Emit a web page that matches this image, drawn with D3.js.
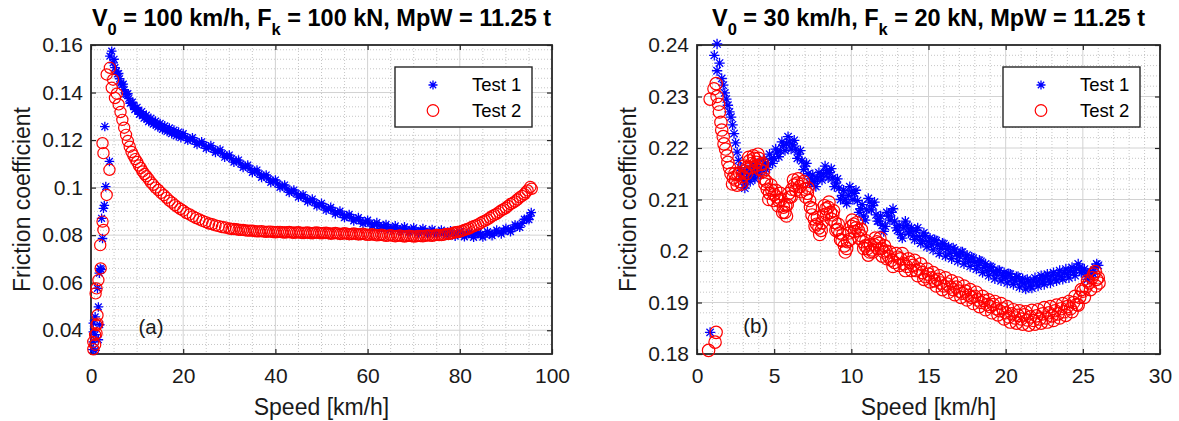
<!DOCTYPE html>
<html><head><meta charset="utf-8">
<script src="https://cdn.jsdelivr.net/npm/d3@7"></script>
<style>
body{margin:0;background:#fff;}
svg{display:block;}
text{font-family:"Liberation Sans",Arial,Helvetica,sans-serif;}
</style>
</head><body>
<svg id="chart" width="1179" height="421"></svg>
<script>
// ---------------- DATA ----------------
const seriesNames = ["Test 1", "Test 2"];

// Panel (a): V0 = 100 km/h
const xTicksA = [0, 20, 40, 60, 80, 100];
const yTicksA = [0.04, 0.06, 0.08, 0.1, 0.12, 0.14, 0.16];
const yTickLabelsA = ["0.04", "0.06", "0.08", "0.1", "0.12", "0.14", "0.16"];
const titleA = [["V", 0], ["0", 1], [" = 100 km/h, F", 0], ["k", 1], [" = 100 kN, MpW = 11.25 t", 0]];

const test1A = [
[0.4,0.0318],[0.5,0.0351],[0.9,0.0315],[0.5,0.0393],[0.9,0.0381],[1.6,0.0360],[0.5,0.0430],[1.9,0.0423],[0.9,0.0456],[1.6,0.0498],[1.4,0.0576],[1.8,0.0640],[2.0,0.0660],[2.2,0.0655],[2.5,0.0786],[2.3,0.0871],[2.7,0.0913],[2.9,0.0925],[3.2,0.1004],[4.0,0.1110],[3.0,0.1257],[4.1,0.1553],[4.5,0.1574],[4.8,0.1525],
[5.0,0.1540],[5.5,0.1490],[6.0,0.1480],[6.5,0.1440],[7.0,0.1435],[7.5,0.1395],[8.0,0.1395],[8.5,0.1355],[9.0,0.1360],[9.5,0.1328],[10.0,0.1338],[10.5,0.1308],[11.0,0.1320],[11.5,0.1292],[12.0,0.1305],[12.5,0.1278],[13.0,0.1292],[13.5,0.1267],[14.0,0.1280],[14.5,0.1255],[15.0,0.1270],[15.5,0.1245],[16.0,0.1260],[16.5,0.1236],[17.0,0.1251],[17.5,0.1227],[18.0,0.1242],[18.5,0.1218],[19.0,0.1234],[19.5,0.1210],[20.0,0.1227],
[5.2,0.1505],[5.7,0.1478],[6.2,0.1458],[6.7,0.1432],[7.2,0.1412],[7.7,0.1392],[8.2,0.1375],[8.7,0.1358],[9.2,0.1345],[9.7,0.1333],[10.2,0.1322],[10.7,0.1312],[11.2,0.1304],[11.7,0.1296],[12.2,0.1290],[12.7,0.1283],[13.2,0.1277],[13.7,0.1272],[14.2,0.1266],[14.7,0.1262],[15.2,0.1256],[15.7,0.1252],[16.2,0.1247],[16.7,0.1243],[17.2,0.1238],[17.7,0.1235],[18.2,0.1230],[18.7,0.1226],[19.2,0.1222],[19.7,0.1219],
[21,0.1199],[22,0.1210],[23,0.1182],[24,0.1193],[25,0.1165],[26,0.1177],[27,0.1148],[28,0.1159],[29,0.1128],[30,0.1137],[31,0.1107],[32,0.1116],[33,0.1085],[34,0.1095],[35,0.1064],[36,0.1074],[37,0.1043],[38,0.1053],[39,0.1022],[40,0.1032],[41,0.1001],[42,0.1011],[43,0.0980],[44,0.0990],[45,0.0960],[46,0.0970],[47,0.0941],[48,0.0952],[49,0.0923],[50,0.0934],[51,0.0905],[52,0.0917],[53,0.0889],[54,0.0901],[55,0.0874],[56,0.0887],[57,0.0860],[58,0.0874],[59,0.0848],[60,0.0863],[61,0.0838],[62,0.0853],[63,0.0829],[64,0.0845],[65,0.0822],[66,0.0839],[67,0.0817],[68,0.0835],[69,0.0813],[70,0.0831],[71,0.0809],[72,0.0828],[73,0.0806],[74,0.0824],[75,0.0803],[76,0.0821],[77,0.0800],[78,0.0818],[79,0.0796],[80,0.0815],[81,0.0793],[82,0.0812],[83,0.0791],[84,0.0811],[85,0.0792],[86,0.0815],[87,0.0798],[88,0.0821],[89,0.0805],[90,0.0829],[91,0.0815],[92,0.0843],[93,0.0833],[94,0.0867],[95,0.0865],[95.5,0.0895],
[20.5,0.1213],[21.5,0.1204],[22.5,0.1196],[23.5,0.1188],[24.5,0.1179],[25.5,0.1171],[26.5,0.1162],[27.5,0.1154],[28.5,0.1143],[29.5,0.1133],[30.5,0.1122],[31.5,0.1112],[32.5,0.1100],[33.5,0.1090],[34.5,0.1080],[35.5,0.1069],[36.5,0.1058],[37.5,0.1048],[38.5,0.1037],[39.5,0.1027],[40.5,0.1016],[41.5,0.1006],[42.5,0.0995],[43.5,0.0985],[44.5,0.0975],[45.5,0.0965],[46.5,0.0955],[47.5,0.0946],[48.5,0.0937],[49.5,0.0928],[50.5,0.0919],[51.5,0.0911],[52.5,0.0903],[53.5,0.0895],[54.5,0.0887],[55.5,0.0880],[56.5,0.0873],[57.5,0.0867],[58.5,0.0861],[59.5,0.0855],[60.5,0.0850],[61.5,0.0845],[62.5,0.0841],[63.5,0.0837],[64.5,0.0833],[65.5,0.0830],[66.5,0.0828],[67.5,0.0826],[68.5,0.0824],[69.5,0.0822],[70.5,0.0820],[71.5,0.0818],[72.5,0.0817],[73.5,0.0815],[74.5,0.0813],[75.5,0.0812],[76.5,0.0810],[77.5,0.0809],[78.5,0.0807],[79.5,0.0805],[80.5,0.0804],[81.5,0.0802],[82.5,0.0801],[83.5,0.0801],[84.5,0.0801],[85.5,0.0803],[86.5,0.0806],[87.5,0.0809],[88.5,0.0813],[89.5,0.0817],[90.5,0.0822],[91.5,0.0829],[92.5,0.0838],[93.5,0.0850],[94.5,0.0866],[95.2,0.0880]
];

const test2A = [
[0.5,0.0320],[0.9,0.0339],[0.5,0.0351],[0.9,0.0380],[1.2,0.0387],[1.2,0.0422],[1.4,0.0428],[1.4,0.0463],[1.0,0.0555],[1.2,0.0576],[1.6,0.0611],[2.1,0.0660],[2.0,0.0758],[2.5,0.0857],[2.7,0.0822],[3.4,0.0969],[4.0,0.1075],[2.7,0.1145],[2.5,0.1187],[3.4,0.1476],[4.1,0.1504],[4.5,0.1420],[4.8,0.1454],[5.2,0.1377],
[5.6,0.1395],[6.0,0.1350],[6.4,0.1318],[6.8,0.1285],[7.2,0.1252],[7.6,0.1222],[8.0,0.1196],[8.4,0.1172],[8.8,0.1150],[9.2,0.1135],[9.6,0.1120],[10.0,0.1108],[10.4,0.1093],[10.8,0.1082],[11.2,0.1068],[11.6,0.1057],[12.0,0.1048],[12.5,0.1036],[13.0,0.1022],[13.5,0.1012],[14.0,0.1000],[14.6,0.0990],[15.2,0.0978],[15.8,0.0968],[16.4,0.0957],[17.0,0.0945],[17.6,0.0937],[18.2,0.0926],[18.8,0.0918],[19.4,0.0910],[20.0,0.0903],[20.7,0.0893],[21.4,0.0887],[22.1,0.0879],[22.8,0.0872],[23.5,0.0866],[24.2,0.0860],[24.9,0.0855],[25.6,0.0849],[26.3,0.0846],[27.0,0.0841],[27.7,0.0838],[28.4,0.0834],[29.1,0.0832],
[30,0.0828],[31,0.0826],[32,0.0823],[33,0.0822],[34,0.0819],[35,0.0819],[36,0.0816],[37,0.0817],[38,0.0814],[39,0.0815],[40,0.0812],[41,0.0814],[42,0.0811],[43,0.0813],[44,0.0810],[45,0.0812],[46,0.0809],[47,0.0811],[48,0.0808],[49,0.0811],[50,0.0808],[51,0.0810],[52,0.0806],[53,0.0809],[54,0.0805],[55,0.0808],[56,0.0804],[57,0.0807],[58,0.0803],[59,0.0806],[60,0.0801],[61,0.0804],[62,0.0799],[63,0.0802],[64,0.0797],[65,0.0800],[66,0.0795],[67,0.0799],[68,0.0794],[69,0.0798],[70,0.0794],[71,0.0797],[72,0.0795],[73,0.0799],[74,0.0797],[75,0.0801],[76,0.0800],[77,0.0805],[78,0.0806],[79,0.0812],[80,0.0815],[81,0.0822],[82,0.0828],[83,0.0838],[84,0.0845],[85,0.0857],[86,0.0866],[87,0.0880],[88,0.0890],[89,0.0904],[90,0.0915],[91,0.0931],[92,0.0942],[93,0.0959],[94,0.0972],[94.7,0.0988],[95.3,0.1003],[95.6,0.0995],
[30.5,0.0826],[31.5,0.0825],[32.5,0.0822],[33.5,0.0820],[34.5,0.0819],[35.5,0.0817],[36.5,0.0816],[37.5,0.0815],[38.5,0.0815],[39.5,0.0813],[40.5,0.0813],[41.5,0.0812],[42.5,0.0812],[43.5,0.0811],[44.5,0.0811],[45.5,0.0810],[46.5,0.0810],[47.5,0.0809],[48.5,0.0810],[49.5,0.0809],[50.5,0.0809],[51.5,0.0808],[52.5,0.0807],[53.5,0.0807],[54.5,0.0806],[55.5,0.0806],[56.5,0.0805],[57.5,0.0805],[58.5,0.0804],[59.5,0.0803],[60.5,0.0802],[61.5,0.0801],[62.5,0.0800],[63.5,0.0799],[64.5,0.0798],[65.5,0.0797],[66.5,0.0797],[67.5,0.0796],[68.5,0.0796],[69.5,0.0796],[70.5,0.0795],[71.5,0.0796],[72.5,0.0797],[73.5,0.0798],[74.5,0.0799],[75.5,0.0800],[76.5,0.0802],[77.5,0.0805],[78.5,0.0809],[79.5,0.0813],[80.5,0.0818],[81.5,0.0825],[82.5,0.0833],[83.5,0.0841],[84.5,0.0851],[85.5,0.0861],[86.5,0.0873],[87.5,0.0885],[88.5,0.0897],[89.5,0.0909],[90.5,0.0923],[91.5,0.0936],[92.5,0.0950],[93.5,0.0965],[94.3,0.0980]
];

// Panel (b): V0 = 30 km/h
const xTicksB = [0, 5, 10, 15, 20, 25, 30];
const yTicksB = [0.18, 0.19, 0.2, 0.21, 0.22, 0.23, 0.24];
const yTickLabelsB = ["0.18", "0.19", "0.2", "0.21", "0.22", "0.23", "0.24"];
const titleB = [["V", 0], ["0", 1], [" = 30 km/h, F", 0], ["k", 1], [" = 20 kN, MpW = 11.25 t", 0]];

const test1B = [
[0.85,0.1842],[1.12,0.2380],[1.3,0.2402],[1.46,0.2365],[1.3,0.2350],[1.6,0.2335],[1.7,0.2322],[1.8,0.2307],[1.9,0.2295],[2.0,0.2283],[2.1,0.2270],[2.2,0.2260],[2.3,0.2245],[2.4,0.2228],[2.5,0.2210],[2.6,0.2192],[2.7,0.2176],[2.8,0.2162],[2.9,0.2150],[3.0,0.2138],[3.1,0.2130],[3.2,0.2140],[3.35,0.2150],[3.5,0.2145],[3.65,0.2158],[3.8,0.2150],[4.0,0.2162],[4.2,0.2158],[4.4,0.2170],[4.6,0.2168],[4.8,0.2180],[5.0,0.2180],[5.2,0.2192],[5.4,0.2195],[5.6,0.2205],[5.8,0.2208],[6.0,0.2212],[6.2,0.2206],[6.4,0.2198],[6.6,0.2188],[6.8,0.2175],[7.0,0.2165],[7.2,0.2150],[7.4,0.2140],[7.6,0.2135],[7.8,0.2140],[8.0,0.2145],[8.2,0.2150],[8.4,0.2156],[8.6,0.2152],[8.8,0.2142],[9.0,0.2132],[9.2,0.2122],[9.4,0.2108],[9.6,0.2100],[9.8,0.2108],[10.0,0.2115],[10.2,0.2112],[10.4,0.2098],[10.6,0.2082],[10.8,0.2068],[11.0,0.2080],[11.2,0.2095],[11.4,0.2088],[11.6,0.2070],[11.8,0.2058],[12.0,0.2050],[12.2,0.2048],[12.4,0.2068],[12.6,0.2075],[12.8,0.2058],[13.0,0.2040],[13.2,0.2032],[13.4,0.2045],[13.6,0.2050],[13.8,0.2038],[14.0,0.2030],[14.2,0.2040],[14.4,0.2028],[14.6,0.2020],[14.8,0.2030],[15.0,0.2018],[15.2,0.2012],[15.4,0.2022],[15.6,0.2012],[15.8,0.2005],[16.0,0.2014],[16.2,0.2003],[16.4,0.1996],[16.6,0.2006],[16.8,0.1995],[17.0,0.1990],[17.2,0.1998],[17.4,0.1986],[17.6,0.1980],[17.8,0.1988],[18.0,0.1978],[18.2,0.1972],[18.4,0.1980],[18.6,0.1968],[18.8,0.1962],[19.0,0.1970],[19.2,0.1960],[19.4,0.1955],[19.6,0.1962],[19.8,0.1952],[20.0,0.1948],[20.2,0.1956],[20.4,0.1946],[20.6,0.1942],[20.8,0.1950],[21.0,0.1940],[21.2,0.1936],[21.4,0.1945],[21.6,0.1932],[21.8,0.1942],[22.0,0.1938],[22.2,0.1946],[22.4,0.1940],[22.6,0.1950],[22.8,0.1944],[23.0,0.1952],[23.2,0.1946],[23.4,0.1955],[23.6,0.1950],[23.8,0.1958],[24.0,0.1954],[24.2,0.1962],[24.4,0.1958],[24.6,0.1966],[24.8,0.1968],[25.0,0.1962],[25.2,0.1955],[25.4,0.1950],[25.6,0.1958],[25.8,0.1968],[26.0,0.1972],
[3.1,0.2122],[3.3,0.2158],[3.45,0.2135],[3.6,0.2165],[3.75,0.2140],[3.9,0.2170],[4.1,0.2148],[4.3,0.2178],[4.5,0.2158],[4.7,0.2188],[4.9,0.2170],[5.1,0.2198],[5.3,0.2183],[5.5,0.2212],[5.7,0.2195],[5.9,0.2222],[6.1,0.2198],[6.3,0.2215],[6.5,0.2180],[6.7,0.2195],[6.9,0.2158],[7.1,0.2170],[7.3,0.2132],[7.5,0.2148],[7.7,0.2125],[7.9,0.2152],[8.1,0.2138],[8.3,0.2165],[8.5,0.2142],[8.7,0.2160],[8.9,0.2125],[9.1,0.2140],[9.3,0.2100],[9.5,0.2118],[9.7,0.2092],[9.9,0.2125],[10.1,0.2100],[10.3,0.2118],[10.5,0.2075],[10.7,0.2090],[10.9,0.2060],[11.1,0.2102],[11.3,0.2080],[11.5,0.2095],[11.7,0.2058],[11.9,0.2068],[12.1,0.2038],[12.3,0.2075],[12.5,0.2060],[12.7,0.2082],[12.9,0.2045],[13.1,0.2050],[13.3,0.2025],[13.5,0.2058],[13.7,0.2035],[13.9,0.2045],[14.1,0.2022],[14.3,0.2045],[14.5,0.2015],[14.7,0.2035],[14.9,0.2008],[15.1,0.2025],[15.3,0.2002],[15.5,0.2020],[15.7,0.1995],[15.9,0.2015],[16.1,0.1990],[16.3,0.2008],[16.5,0.1985],[16.7,0.2002],[16.9,0.1980],[17.1,0.1998],[17.3,0.1975],[17.5,0.1992],[17.7,0.1970],[17.9,0.1986],[18.1,0.1965],[18.3,0.1982],[18.5,0.1958],[18.7,0.1975],[18.9,0.1952],[19.1,0.1968],[19.3,0.1946],[19.5,0.1962],[19.7,0.1942],[19.9,0.1958],[20.1,0.1938],[20.3,0.1955],[20.5,0.1935],[20.7,0.1950],[20.9,0.1930],[21.1,0.1946],[21.3,0.1926],[21.5,0.1940],[21.7,0.1928],[21.9,0.1948],[22.1,0.1932],[22.3,0.1952],[22.5,0.1935],[22.7,0.1955],[22.9,0.1938],[23.1,0.1958],[23.3,0.1942],[23.5,0.1962],[23.7,0.1945],[23.9,0.1965],[24.1,0.1948],[24.3,0.1968],[24.5,0.1952],[24.7,0.1975],[24.9,0.1958],[25.1,0.1965],[25.3,0.1945],[25.5,0.1960],[25.7,0.1955],[25.9,0.1975]
];

const test2B = [
[0.75,0.1807],[1.17,0.1823],[1.24,0.1842],
[0.85,0.2295],[1.1,0.2315],[1.24,0.2325],[1.3,0.2300],[1.4,0.2285],[1.45,0.2270],[1.55,0.2250],[1.6,0.2235],[1.7,0.2222],[1.75,0.2208],[1.85,0.2198],[1.95,0.2185],[2.0,0.2172],[2.1,0.2162],[2.2,0.2150],[2.35,0.2142],[2.5,0.2138],[2.65,0.2148],[2.8,0.2135],[2.95,0.2145],[3.1,0.2155],[3.25,0.2162],[3.4,0.2175],[3.55,0.2170],[3.7,0.2180],[3.85,0.2172],[4.0,0.2180],[4.15,0.2168],[4.3,0.2155],[4.4,0.2130],[4.55,0.2120],[4.7,0.2112],[4.85,0.2118],[5.0,0.2110],[5.15,0.2105],[5.3,0.2098],[5.45,0.2100],[5.6,0.2085],[5.7,0.2075],[5.85,0.2090],[6.0,0.2105],[6.15,0.2120],[6.3,0.2128],[6.5,0.2132],[6.65,0.2125],[6.8,0.2130],[7.0,0.2120],[7.15,0.2112],[7.3,0.2098],[7.45,0.2070],[7.6,0.2062],[7.75,0.2052],[7.9,0.2045],[8.05,0.2040],[8.2,0.2070],[8.35,0.2082],[8.5,0.2085],[8.65,0.2075],[8.8,0.2070],[8.95,0.2055],[9.1,0.2042],[9.25,0.2035],[9.4,0.2020],[9.55,0.2010],[9.7,0.2005],[9.85,0.2035],[10.0,0.2048],[10.15,0.2052],[10.3,0.2045],[10.45,0.2040],[10.6,0.2030],[10.75,0.2018],[10.9,0.2010],[11.05,0.2005],[11.2,0.1998],[11.35,0.2002],[11.5,0.2012],[11.65,0.2018],[11.8,0.2015],[11.95,0.2005],[12.1,0.1998],[12.25,0.2000],[12.4,0.1990],[12.6,0.1982],[12.8,0.1978],[13.0,0.1988],[13.2,0.1985],[13.4,0.1975],[13.6,0.1970],[13.8,0.1978],[14.0,0.1972],[14.2,0.1962],[14.4,0.1965],[14.6,0.1958],[14.8,0.1950],[15.0,0.1955],[15.2,0.1948],[15.4,0.1942],[15.6,0.1945],[15.8,0.1938],[16.0,0.1932],[16.2,0.1936],[16.4,0.1930],[16.6,0.1925],[16.8,0.1930],[17.0,0.1922],[17.2,0.1918],[17.4,0.1922],[17.6,0.1914],[17.8,0.1910],[18.0,0.1912],[18.2,0.1905],[18.4,0.1900],[18.6,0.1904],[18.8,0.1896],[19.0,0.1892],[19.2,0.1896],[19.4,0.1888],[19.6,0.1884],[19.8,0.1888],[20.0,0.1880],[20.2,0.1872],[20.4,0.1878],[20.6,0.1870],[20.8,0.1875],[21.0,0.1868],[21.2,0.1876],[21.4,0.1866],[21.6,0.1872],[21.8,0.1865],[22.0,0.1874],[22.2,0.1868],[22.4,0.1878],[22.6,0.1870],[22.8,0.1880],[23.0,0.1874],[23.2,0.1884],[23.4,0.1878],[23.6,0.1888],[23.8,0.1882],[24.0,0.1892],[24.2,0.1888],[24.4,0.1900],[24.6,0.1896],[24.8,0.1910],[25.0,0.1922],[25.2,0.1930],[25.4,0.1938],[25.6,0.1948],[25.8,0.1960],[25.9,0.1945],[26.05,0.1938],
[2.3,0.2130],[2.45,0.2150],[2.6,0.2128],[2.75,0.2152],[2.9,0.2130],[3.05,0.2165],[3.2,0.2150],[3.35,0.2182],[3.5,0.2162],[3.65,0.2185],[3.8,0.2165],[3.95,0.2188],[4.1,0.2158],[4.25,0.2170],[4.35,0.2140],[4.5,0.2135],[4.65,0.2100],[4.8,0.2128],[4.95,0.2098],[5.1,0.2118],[5.25,0.2088],[5.4,0.2112],[5.55,0.2075],[5.75,0.2088],[5.8,0.2068],[5.95,0.2112],[6.1,0.2105],[6.25,0.2138],[6.4,0.2118],[6.55,0.2140],[6.75,0.2115],[6.9,0.2135],[7.05,0.2105],[7.2,0.2122],[7.35,0.2085],[7.5,0.2082],[7.65,0.2048],[7.8,0.2065],[7.95,0.2032],[8.1,0.2055],[8.25,0.2088],[8.4,0.2072],[8.55,0.2095],[8.7,0.2062],[8.85,0.2078],[9.0,0.2040],[9.15,0.2052],[9.3,0.2022],[9.45,0.2032],[9.6,0.1998],[9.75,0.2018],[9.9,0.2022],[10.05,0.2060],[10.2,0.2038],[10.35,0.2055],[10.5,0.2025],[10.65,0.2042],[10.8,0.2005],[10.95,0.2020],[11.1,0.1992],[11.25,0.2012],[11.4,0.1998],[11.55,0.2025],[11.7,0.2005],[11.85,0.2025],[12.0,0.1990],[12.15,0.2010],[12.3,0.1985],[12.5,0.1998],[12.7,0.1970],[12.9,0.1995],[13.1,0.1972],[13.3,0.1995],[13.5,0.1962],[13.7,0.1985],[13.9,0.1962],[14.1,0.1982],[14.3,0.1952],[14.5,0.1975],[14.7,0.1945],[14.9,0.1965],[15.1,0.1940],[15.3,0.1958],[15.5,0.1932],[15.7,0.1952],[15.9,0.1925],[16.1,0.1948],[16.3,0.1920],[16.5,0.1942],[16.7,0.1915],[16.9,0.1938],[17.1,0.1910],[17.3,0.1932],[17.5,0.1905],[17.7,0.1925],[17.9,0.1898],[18.1,0.1920],[18.3,0.1892],[18.5,0.1912],[18.7,0.1886],[18.9,0.1905],[19.1,0.1880],[19.3,0.1902],[19.5,0.1876],[19.7,0.1898],[19.9,0.1868],[20.1,0.1892],[20.3,0.1862],[20.5,0.1886],[20.7,0.1860],[20.9,0.1884],[21.1,0.1858],[21.3,0.1882],[21.5,0.1856],[21.7,0.1885],[21.9,0.1858],[22.1,0.1886],[22.3,0.1860],[22.5,0.1890],[22.7,0.1862],[22.9,0.1892],[23.1,0.1865],[23.3,0.1895],[23.5,0.1870],[23.7,0.1898],[23.9,0.1875],[24.1,0.1902],[24.3,0.1882],[24.5,0.1912],[24.7,0.1895],[24.9,0.1925],[25.1,0.1910],[25.3,0.1942],[25.5,0.1925],[25.7,0.1955],[25.85,0.1932],[26.0,0.1948]
];

// ---------------- DRAWING ----------------
const svg = d3.select("#chart");
const BLUE = "#0000ff", RED = "#ff0000", AXC = "#262626";

function asteriskPath(s) {
  const a = s * 0.7071;
  return `M${-s},0H${s}M0,${-s}V${s}M${-a},${-a}L${a},${a}M${-a},${a}L${a},${-a}`;
}

function drawPanel(cfg) {
  const g = svg.append("g");
  const x = d3.scaleLinear().domain(cfg.xDomain).range([cfg.left, cfg.right]);
  const y = d3.scaleLinear().domain(cfg.yDomain).range([cfg.bottom, cfg.top]);

  const isMajor = (v, step) => Math.abs(v / step - Math.round(v / step)) < 1e-6;
  const nx = Math.round((cfg.xDomain[1] - cfg.xDomain[0]) / cfg.xMinor);
  const ny = Math.round((cfg.yDomain[1] - cfg.yDomain[0]) / cfg.yMinor);
  const minorX = d3.range(1, nx).map(i => cfg.xDomain[0] + i * cfg.xMinor).filter(v => !isMajor(v, cfg.xMajor));
  const minorY = d3.range(1, ny).map(i => cfg.yDomain[0] + i * cfg.yMinor).filter(v => !isMajor(v - cfg.yTicks[0], cfg.yMajor));

  // minor grid
  g.selectAll(".mgx").data(minorX).join("line")
    .attr("x1", d => x(d)).attr("x2", d => x(d)).attr("y1", cfg.top).attr("y2", cfg.bottom)
    .attr("stroke", "#b8b8b8").attr("stroke-width", 0.8).attr("stroke-dasharray", "1,2");
  g.selectAll(".mgy").data(minorY).join("line")
    .attr("y1", d => y(d)).attr("y2", d => y(d)).attr("x1", cfg.left).attr("x2", cfg.right)
    .attr("stroke", "#b8b8b8").attr("stroke-width", 0.8).attr("stroke-dasharray", "1,2");
  // major grid
  g.selectAll(".Mgx").data(cfg.xTicks.filter(v => v > cfg.xDomain[0] && v < cfg.xDomain[1])).join("line")
    .attr("x1", d => x(d)).attr("x2", d => x(d)).attr("y1", cfg.top).attr("y2", cfg.bottom)
    .attr("stroke", "#d2d2d2").attr("stroke-width", 1);
  g.selectAll(".Mgy").data(cfg.yTicks.filter(v => v > cfg.yDomain[0] && v < cfg.yDomain[1])).join("line")
    .attr("y1", d => y(d)).attr("y2", d => y(d)).attr("x1", cfg.left).attr("x2", cfg.right)
    .attr("stroke", "#d2d2d2").attr("stroke-width", 1);

  // axes (ticks inward)
  const styleAxis = (sel, showText) => {
    sel.select(".domain").remove();
    sel.selectAll(".tick line").attr("stroke", AXC).attr("stroke-width", 1.2);
    sel.selectAll(".tick text").attr("font-size", 21).attr("fill", "#1a1a1a")
      .attr("font-family", "'Liberation Sans',Arial,sans-serif");
    if (!showText) sel.selectAll(".tick text").remove();
  };
  g.append("g").attr("transform", `translate(0,${cfg.bottom})`)
    .call(d3.axisBottom(x).tickValues(cfg.xTicks).tickFormat(d => String(d)).tickSize(-5).tickPadding(14))
    .call(s => styleAxis(s, true));
  g.append("g").attr("transform", `translate(0,${cfg.top})`)
    .call(d3.axisTop(x).tickValues(cfg.xTicks).tickSize(-5))
    .call(s => styleAxis(s, false));
  g.append("g").attr("transform", `translate(${cfg.left},0)`)
    .call(d3.axisLeft(y).tickValues(cfg.yTicks).tickFormat((d, i) => cfg.yTickLabels[i]).tickSize(-5).tickPadding(8))
    .call(s => styleAxis(s, true));
  g.append("g").attr("transform", `translate(${cfg.right},0)`)
    .call(d3.axisRight(y).tickValues(cfg.yTicks).tickSize(-5))
    .call(s => styleAxis(s, false));

  // box
  g.append("rect").attr("x", cfg.left).attr("y", cfg.top)
    .attr("width", cfg.right - cfg.left).attr("height", cfg.bottom - cfg.top)
    .attr("fill", "none").attr("stroke", AXC).attr("stroke-width", 1.8);

  // data: Test 1 asterisks
  g.append("g").selectAll("path").data(cfg.s1).join("path")
    .attr("d", asteriskPath(cfg.a))
    .attr("transform", d => `translate(${x(d[0])},${y(d[1])})`)
    .attr("stroke", BLUE).attr("stroke-width", 1.3).attr("fill", "none");
  // Test 2 circles
  g.append("g").selectAll("circle").data(cfg.s2).join("circle")
    .attr("cx", d => x(d[0])).attr("cy", d => y(d[1])).attr("r", cfg.r)
    .attr("stroke", RED).attr("stroke-width", 1.2).attr("fill", "none");

  // title
  const cx = (cfg.left + cfg.right) / 2;
  const t = g.append("text").attr("x", cx).attr("y", 26).attr("text-anchor", "middle")
    .attr("font-size", 23.5).attr("font-weight", "bold").attr("fill", "#000");
  let shifted = false;
  cfg.title.forEach(([s, sub]) => {
    const ts = t.append("tspan").text(s);
    if (sub) { ts.attr("font-size", 16.5).attr("dy", 9); shifted = true; }
    else if (shifted) { ts.attr("dy", -9); shifted = false; }
  });

  // axis labels
  g.append("text").attr("x", cx).attr("y", 415).attr("text-anchor", "middle")
    .attr("font-size", 23).attr("fill", "#1a1a1a").text("Speed [km/h]");
  g.append("text").attr("transform", `translate(${cfg.ylabX},${(cfg.top + cfg.bottom) / 2}) rotate(-90)`)
    .attr("text-anchor", "middle").attr("font-size", 23).attr("fill", "#1a1a1a").text("Friction coefficient");

  // panel tag
  g.append("text").attr("x", x(cfg.tag[1])).attr("y", y(cfg.tag[2])).attr("dy", "0.35em")
    .attr("font-size", 20.5).attr("fill", "#1a1a1a").text(cfg.tag[0]);

  // legend
  const lg = g.append("g").attr("transform", `translate(${cfg.right - 157},67)`);
  lg.append("rect").attr("x", 0).attr("y", 0).attr("width", 137).attr("height", 60)
    .attr("fill", "#fff").attr("stroke", AXC).attr("stroke-width", 1.4);
  lg.append("path").attr("d", asteriskPath(4.5)).attr("transform", "translate(38,18)")
    .attr("stroke", BLUE).attr("stroke-width", 1.3).attr("fill", "none");
  lg.append("circle").attr("cx", 38).attr("cy", 43.5).attr("r", 5.8)
    .attr("stroke", RED).attr("stroke-width", 1.2).attr("fill", "none");
  lg.selectAll("text").data(seriesNames).join("text")
    .attr("x", 77).attr("y", (d, i) => 18 + i * 25.5).attr("dy", "0.35em")
    .attr("font-size", 18.5).attr("fill", "#000").text(d => d);
}

drawPanel({
  left: 91, right: 552, top: 45, bottom: 354,
  xDomain: [0, 100], yDomain: [0.03, 0.16],
  xTicks: xTicksA, yTicks: yTicksA, yTickLabels: yTickLabelsA,
  xMajor: 20, xMinor: 5, yMajor: 0.02, yMinor: 0.004,
  s1: test1A, s2: test2A, r: 5.6, a: 4.8, title: titleA, ylabX: 30,
  tag: ["(a)", 10.3, 0.0415]
});
drawPanel({
  left: 697, right: 1160, top: 45, bottom: 354,
  xDomain: [0, 30], yDomain: [0.18, 0.24],
  xTicks: xTicksB, yTicks: yTicksB, yTickLabels: yTickLabelsB,
  xMajor: 5, xMinor: 1, yMajor: 0.01, yMinor: 0.002,
  s1: test1B, s2: test2B, r: 6.2, a: 5.2, title: titleB, ylabX: 636,
  tag: ["(b)", 3.0, 0.1854]
});
</script>
</body></html>
